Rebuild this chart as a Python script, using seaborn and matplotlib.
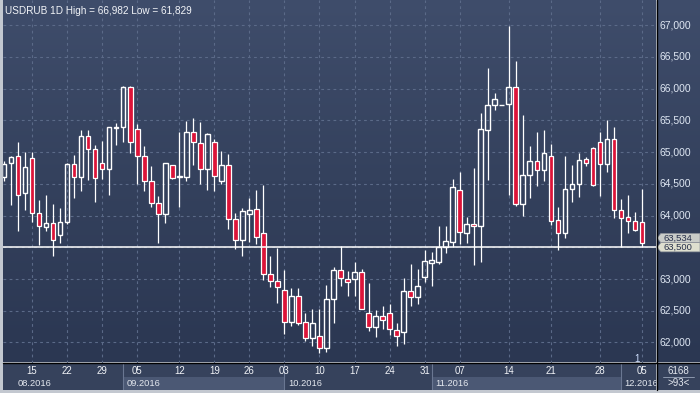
import numpy as np
import pandas as pd
import matplotlib
matplotlib.use("Agg")
import matplotlib.pyplot as plt
import matplotlib.patches as mpatches
import matplotlib.transforms as mtrans
from matplotlib.lines import Line2D
from matplotlib.colors import LinearSegmentedColormap
import seaborn as sns

# ---------------- data (USDRUB daily OHLC) ----------------
open_ = [64.60, 64.82, 64.93, 64.35, 64.90, 64.04, 63.82, 63.88, 63.69, 63.89,
         64.81, 64.61, 65.26, 65.04, 64.82, 64.74, 65.38, 65.40, 66.02, 65.36,
         64.93, 64.54, 64.19, 64.02, 64.79, 64.61, 64.60, 65.31, 65.14, 64.73,
         65.16, 64.55, 64.79, 63.94, 63.62, 64.02, 64.10, 63.73, 63.08, 62.97,
         62.83, 62.33, 62.73, 62.33, 62.07, 62.11, 61.92, 62.69, 63.14, 63.00,
         63.00, 63.11, 62.47, 62.25, 62.42, 62.47, 62.19, 62.17, 62.81, 62.72,
         63.03, 63.25, 63.27, 63.50, 63.59, 64.40, 63.72, 63.86, 63.83, 65.35,
         65.74, 65.738, 65.75, 66.02, 64.18, 64.64, 64.86, 64.72, 64.94, 63.93,
         63.73, 64.41, 64.50, 64.89, 65.07, 65.16, 64.81, 65.21, 64.09, 63.97,
         63.92, 63.90]
high = [64.86, 64.94, 65.16, 65.00, 65.00, 64.25, 64.33, 64.18, 64.12, 64.82,
        64.95, 65.34, 65.34, 65.11, 65.18, 65.40, 65.46, 66.04, 66.04, 65.44,
        65.09, 64.78, 64.30, 64.83, 64.80, 65.32, 65.49, 65.53, 65.47, 65.30,
        65.20, 65.02, 64.97, 64.04, 64.12, 64.28, 64.40, 64.48, 63.37, 63.49,
        63.14, 62.86, 62.86, 62.47, 62.52, 62.52, 62.90, 63.19, 63.52, 63.13,
        63.27, 63.15, 62.94, 62.51, 62.58, 62.60, 62.31, 63.01, 63.24, 63.15,
        63.46, 63.43, 63.84, 63.83, 64.58, 64.69, 63.97, 64.75, 65.62, 66.33,
        65.93, 65.745, 66.982, 66.43, 65.58, 65.09, 65.31, 65.34, 65.13, 64.13,
        64.93, 64.79, 64.98, 64.92, 65.08, 65.31, 65.50, 65.39, 64.26, 64.33,
        64.06, 64.42]
low = [64.55, 64.16, 63.75, 64.08, 63.89, 63.54, 63.75, 63.37, 63.56, 63.87,
       64.28, 64.38, 64.56, 64.22, 64.58, 64.33, 65.11, 65.16, 64.99, 64.50,
       64.39, 64.13, 63.56, 63.88, 64.58, 64.13, 64.55, 64.80, 64.50, 64.40,
       64.38, 64.50, 63.78, 63.48, 63.37, 63.58, 63.55, 62.99, 62.87, 62.62,
       62.14, 62.26, 62.28, 62.03, 61.94, 61.829, 61.85, 62.30, 62.89, 62.74,
       62.73, 62.52, 62.18, 62.09, 62.22, 62.12, 61.94, 61.98, 62.57, 62.61,
       62.95, 62.89, 63.24, 63.41, 63.51, 63.55, 63.57, 63.22, 63.26, 64.56,
       65.66, 65.735, 64.32, 64.15, 63.99, 64.27, 64.46, 64.54, 63.85, 63.45,
       63.64, 64.21, 64.29, 64.78, 64.47, 64.30, 64.68, 63.96, 63.50, 63.73,
       63.75, 63.50]
close = [64.81, 64.92, 64.33, 64.76, 64.04, 63.83, 63.88, 63.61, 63.90, 64.81,
         64.61, 65.26, 65.04, 64.59, 64.73, 65.39, 65.40, 66.02, 65.15, 64.93,
         64.54, 64.19, 64.02, 64.82, 64.59, 64.62, 65.31, 65.15, 64.73, 65.28,
         64.63, 64.79, 63.94, 63.62, 64.07, 64.08, 63.66, 63.08, 62.97, 62.87,
         62.33, 62.73, 62.30, 62.07, 62.31, 61.92, 62.69, 63.14, 63.01, 62.95,
         63.11, 62.53, 62.25, 62.42, 62.36, 62.22, 62.11, 62.81, 62.72, 62.89,
         63.28, 63.30, 63.50, 63.60, 64.45, 63.74, 63.87, 63.83, 65.36, 65.74,
         65.84, 65.742, 66.02, 64.18, 64.64, 64.86, 64.71, 64.98, 63.92, 63.73,
         64.41, 64.50, 64.88, 64.82, 64.48, 64.81, 65.21, 64.09, 63.96, 63.92,
         63.77, 63.57]

day_tick_pos = [4, 9, 14, 19, 25, 30, 35, 40, 45, 50, 55, 60, 65, 72, 78, 85, 91]
day_tick_labels = ["15", "22", "29", "05", "12", "19", "26", "03", "10", "17",
                   "24", "31", "07", "14", "21", "28", "05"]
month_start = [1.4, 17, 40, 61, 88]
month_labels = ["08.2016", "09.2016", "10.2016", "11.2016", "12.2016"]
price_ticks = [62.0, 62.5, 63.0, 63.5, 64.0, 64.5, 65.0, 65.5, 66.0, 66.5, 67.0]
last_price = 63.5
ask_price = 63.645
title_text = "USDRUB 1D High = 66,982 Low = 61,829"

df = pd.DataFrame({"open": open_, "high": high, "low": low, "close": close})
df["idx"] = np.arange(len(df))

# ---------------- style ----------------
sns.set_style("dark")
plt.rcParams["font.family"] = ["Liberation Sans", "DejaVu Sans"]

W, H = 700, 393
fig = plt.figure(figsize=(W / 100, H / 100), dpi=100)
fig.patch.set_facecolor("#c3c8d0")


def px_axes(x0, y0, x1, y1):
    return fig.add_axes([x0 / W, 1 - y1 / H, (x1 - x0) / W, (y1 - y0) / H])


ax = px_axes(3, 0, 656, 362.5)
ax_r = px_axes(657, 0, 700, 362.5)
ax_d = px_axes(3, 363.5, 656, 390)
ax_c = px_axes(657, 363.5, 700, 390)

XL = (-0.143, 93.0)
YL = (61.685, 67.394)

grad = LinearSegmentedColormap.from_list("g", ["#2b3752", "#34415d", "#3f4d6b"])
for a in (ax, ax_r):
    a.set_xlim(*XL if a is ax else (0, 1))
    a.set_ylim(*YL)
    a.imshow(np.linspace(0, 1, 256).reshape(-1, 1), cmap=grad, origin="lower",
             aspect="auto", extent=(a.get_xlim()[0], a.get_xlim()[1], YL[0], YL[1]),
             zorder=0, interpolation="bicubic")
    a.set_axis_off()

# grid
for v in price_ticks:
    ax.axhline(v, color="#5b6a88", lw=0.8, ls=(0, (2.5, 3)), zorder=1)
for p in day_tick_pos:
    ax.axvline(p, color="#5b6a88", lw=0.8, ls=(0, (2.5, 3)), zorder=1)

# candles
up = df[df["close"] >= df["open"]]
dn = df[df["close"] < df["open"]]
top = df[["open", "close"]].max(axis=1)
bot = df[["open", "close"]].min(axis=1)
ax.vlines(df["idx"], top, df["high"], color="white", lw=0.9, zorder=2)
ax.vlines(df["idx"], df["low"], bot, color="white", lw=0.9, zorder=2)
bw = 0.66
ax.bar(up["idx"], (up["close"] - up["open"]).clip(lower=0.004), bottom=up["open"],
       width=bw, facecolor="none", edgecolor="white", lw=1.0, zorder=3)
ax.bar(dn["idx"], dn["open"] - dn["close"], bottom=dn["close"], width=bw,
       facecolor="#dc1439", edgecolor="white", lw=0.9, zorder=3)

# last price line
sns.lineplot(x=[XL[0], XL[1]], y=[last_price, last_price], ax=ax, color="white",
             lw=1.1, zorder=4)
ax.set_xlim(*XL)
ax.set_ylim(*YL)
ax.set_axis_off()

# right axis labels
for v in price_ticks:
    if v == last_price:
        continue
    ax_r.text(0.05, v, f"{v:.3f}".replace(".", ","), color="#dfe7f3",
              fontsize=7.4, va="center", ha="left", zorder=3)
ax_r.set_xlim(0, 1)
ax_r.set_ylim(*YL)

# price tags
tr = mtrans.blended_transform_factory(ax_r.transAxes, ax_r.transData)
hh = 4.6 / 63.5
for yc, fc, txt in [(ask_price, "#c9ccc8", "63,534"), (last_price, "#dedfcf", "63,500")]:
    poly = mpatches.Polygon([(0.0, yc), (0.09, yc + hh), (1.0, yc + hh),
                             (1.0, yc - hh), (0.09, yc - hh)], closed=True,
                            facecolor=fc, edgecolor="#8a8f98", lw=0.5,
                            transform=tr, zorder=5)
    ax_r.add_patch(poly)
    ax_r.text(0.14, yc, txt, color="#27304a", fontsize=6.8, va="center",
              ha="left", transform=tr, zorder=6)

# title
fig.text(5 / W, 1 - 10.5 / H, title_text, color="#f2f4f8", fontsize=7.2,
         va="center", ha="left")

# date band
ax_d.set_xlim(*XL)
ax_d.set_ylim(0, 1)
ax_d.set_facecolor("#36425c")
ax_d.set_xticks([])
ax_d.set_yticks([])
for s in ax_d.spines.values():
    s.set_visible(False)
bounds = month_start[1:] + [XL[1]]
for i, (ms, lab) in enumerate(zip(month_start, month_labels)):
    if i > 0:
        ax_d.axvline(ms, color="#6a7792", lw=0.8)
    if i % 2 == 1:
        ax_d.axvspan(ms, bounds[i], ymin=0, ymax=0.5, color="#4b5874", lw=0)
    ax_d.text(ms + 0.5, 0.25, lab, color="#e4e8ef", fontsize=6.7, va="center",
              ha="left")
for p, lab in zip(day_tick_pos, day_tick_labels):
    ax_d.text(p, 0.7, lab, color="#f2f4f8", fontsize=6.9, va="center",
              ha="center")

# corner box
ax_c.set_xlim(0, 1)
ax_c.set_ylim(0, 1)
ax_c.set_facecolor("#36425c")
ax_c.set_xticks([])
ax_c.set_yticks([])
for s in ax_c.spines.values():
    s.set_visible(False)
ax_c.text(0.5, 0.72, "6168", color="#e4e8ef", fontsize=7, va="center", ha="center")
ax_c.plot([0.15, 0.85], [0.5, 0.5], color="#9aa6bb", lw=0.6)
ax_c.text(0.5, 0.25, ">93<", color="#e4e8ef", fontsize=7, va="center", ha="center")

# small marker near bottom right of chart
ax.text(90.3, YL[0] + 0.05, "1", color="#cfe0ff", fontsize=7, va="center",
        ha="center", zorder=6)

# separators
fig.add_artist(Line2D([656.5 / W, 656.5 / W], [1 - 390 / H, 1], color="black",
                      lw=1.0, transform=fig.transFigure))
fig.add_artist(Line2D([3 / W, 1], [1 - 363 / H, 1 - 363 / H], color="black",
                      lw=1.0, transform=fig.transFigure))

fig.savefig("out.png", dpi=100, facecolor=fig.get_facecolor())
